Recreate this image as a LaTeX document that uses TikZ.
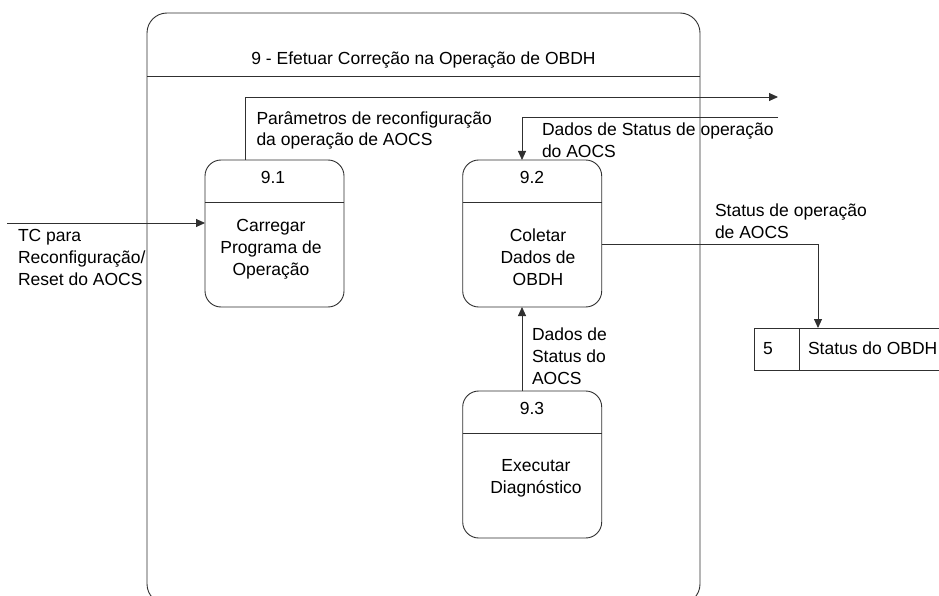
\documentclass[tikz,border=0pt]{standalone}
\usepackage{fontspec}
\setmainfont{Liberation Sans}
\usetikzlibrary{arrows.meta}
\definecolor{lc}{HTML}{303030}
\begin{document}
\begin{tikzpicture}[x=1pt,y=-1pt,
  every node/.style={inner sep=0pt,outer sep=0pt},
  txt/.style={font=\fontsize{17.5}{21.8}\selectfont, text=black},
  proc/.style={draw=lc, line width=0.9pt, rounded corners=16pt, minimum width=139pt, minimum height=147pt},
  flow/.style={draw=lc, line width=0.9pt, -{Triangle[length=9pt,width=8pt]}},
  plain/.style={draw=lc, line width=0.9pt}]
\useasboundingbox (0,0) rectangle (939,596);
\clip (0,0) rectangle (939,596);
\fill[white] (0,0) rectangle (939,596);

% outer process frame
\node[plain, rounded corners=20pt, minimum width=553pt, minimum height=591pt, anchor=north west] (outer) at (147,13) {};
\draw[plain] ([yshift=-63pt]outer.north west) -- ([yshift=-63pt]outer.north east);
\node[txt, anchor=base] (title) at (423.5,65) {9 - Efetuar Correção na Operação de OBDH};

% processes (multi-line text nodes: base = baseline of last line)
\node[proc] (p1) at (274.5,233.5) {};
\draw[plain] ([yshift=-42pt]p1.north west) -- ([yshift=-42pt]p1.north east);
\node[txt,anchor=base] (p1id) at (273,184) {9.1};
\node[txt,anchor=base,align=center] (p1txt) at (271,275) {Carregar\\Programa de\\Operação};

\node[proc] (p2) at (532.2,233.5) {};
\draw[plain] ([yshift=-42pt]p2.north west) -- ([yshift=-42pt]p2.north east);
\node[txt,anchor=base] (p2id) at (532,184) {9.2};
\node[txt,anchor=base,align=center] (p2txt) at (538,285) {Coletar\\Dados de\\OBDH};

\node[proc] (p3) at (532.2,464.5) {};
\draw[plain] ([yshift=-42pt]p3.north west) -- ([yshift=-42pt]p3.north east);
\node[txt,anchor=base] (p3id) at (532,414.5) {9.3};
\node[txt,anchor=base,align=center] (p3txt) at (536,493.5) {Executar\\Diagnóstico};

% data store
\node[anchor=north west, minimum width=185pt, minimum height=42pt] (store) at (754,328) {};
\draw[plain] (store.north east) -- (store.north west) -- (store.south west) -- (store.south east);
\draw[plain] ([xshift=45pt]store.north west) -- ([xshift=45pt]store.south west);
\node[txt,anchor=base] (sid) at (768,354.5) {5};
\node[txt,anchor=base west] (sname) at (808,354.5) {Status do OBDH};

% flows
\coordinate (tcin) at (7,223);
\draw[flow] (tcin) -- (tcin -| p1.west);
\node[txt,anchor=base west,align=left] (tclbl) at (18,285) {TC para\\Reconfiguração/\\Reset do AOCS};

\coordinate (parout) at (778,97);
\draw[flow] ([xshift=40pt]p1.north west) |- (parout);
\node[txt,anchor=base west,align=left] (parlbl) at (256.5,146) {Parâmetros de reconfiguração\\da operação de AOCS};

\coordinate (dsin) at (778,117.5);
\draw[flow] (dsin) -| ([xshift=59.3pt]p2.north west);
\node[txt,anchor=base west,align=left] (dslbl) at (542,157.5) {Dados de Status de operação\\do AOCS};

\draw[flow] ([yshift=-10.5pt]p2.east) -| ([xshift=64pt]store.north west);
\node[txt,anchor=base west,align=left] (stlbl) at (715,238) {Status de operação\\de AOCS};

\draw[flow] ([xshift=59.3pt]p3.north west) -- ([xshift=59.3pt]p2.south west);
\node[txt,anchor=base west,align=left] (dalbl) at (532,384.5) {Dados de\\Status do\\AOCS};
\end{tikzpicture}
\end{document}
